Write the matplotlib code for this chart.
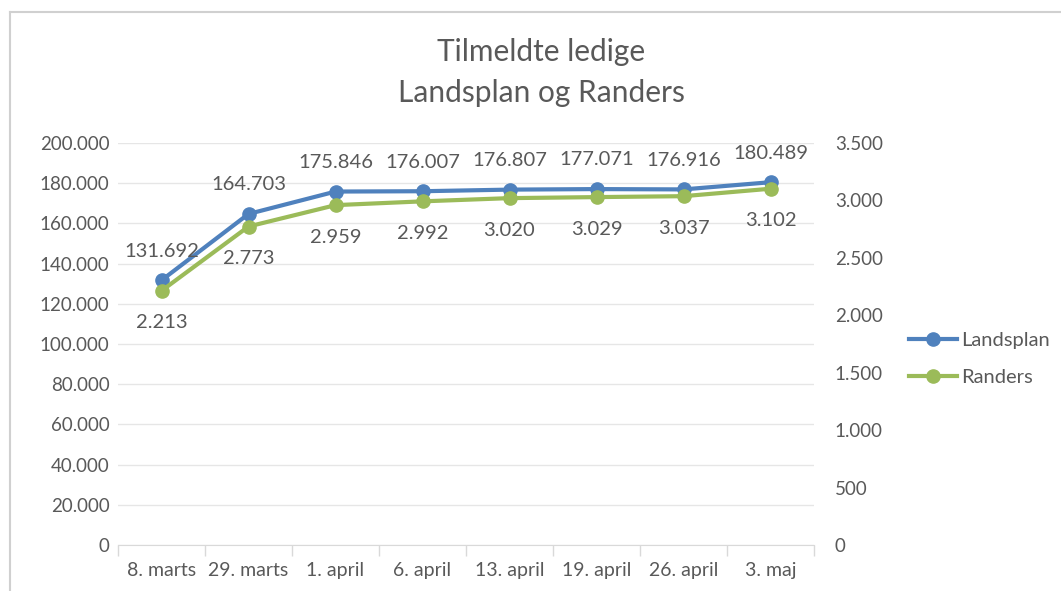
import matplotlib
matplotlib.use("Agg")
import matplotlib.pyplot as plt
from matplotlib.lines import Line2D
from matplotlib.ticker import FuncFormatter, MultipleLocator, FixedLocator

categories = ["8. marts", "29. marts", "1. april", "6. april", "13. april", "19. april", "26. april", "3. maj"]
landsplan = [131692, 164703, 175846, 176007, 176807, 177071, 176916, 180489]
randers = [2213, 2773, 2959, 2992, 3020, 3029, 3037, 3102]

plt.rcParams['font.family'] = ['Lato', 'DejaVu Sans']
txt = "#595959"
blue = "#4F81BD"
green = "#9BBB59"

def dk(v, pos=None):
    return f"{int(round(v)):,}".replace(",", ".")

fig = plt.figure(figsize=(10.61, 5.91), dpi=100)
ax = fig.add_axes([118/1061, 46/591, 696/1061, 402/591])
ax2 = ax.twinx()

x = list(range(len(categories)))
ax.plot(x, landsplan, color=blue, lw=3, marker="o", ms=9.5, zorder=3, label="Landsplan")
ax2.plot(x, randers, color=green, lw=3, marker="o", ms=9.5, zorder=3, label="Randers")

for xi, v in zip(x, landsplan):
    ax.annotate(dk(v), (xi, v), xytext=(0, 21), textcoords="offset points",
                ha="center", va="center", fontsize=14.5, color=txt)
for xi, v in zip(x, randers):
    ax2.annotate(dk(v), (xi, v), xytext=(0, -23), textcoords="offset points",
                 ha="center", va="center", fontsize=14.5, color=txt)

ax.set_xlim(-0.5, len(categories) - 0.5)
ax.set_ylim(0, 200000)
ax2.set_ylim(0, 3500)
ax.yaxis.set_major_locator(MultipleLocator(20000))
ax2.yaxis.set_major_locator(MultipleLocator(500))
ax.yaxis.set_major_formatter(FuncFormatter(dk))
ax2.yaxis.set_major_formatter(FuncFormatter(dk))

ax.set_xticks(x)
ax.set_xticklabels(categories)
ax.xaxis.set_minor_locator(FixedLocator([i - 0.5 for i in range(len(categories) + 1)]))
ax.tick_params(axis="x", which="major", length=0, labelsize=14, colors=txt, pad=12)
ax.tick_params(axis="x", which="minor", length=8, color="#D9D9D9", width=1)
ax.tick_params(axis="y", length=0, labelsize=13.5, colors=txt, pad=6)
ax2.tick_params(axis="y", length=0, labelsize=13.5, colors=txt, pad=15)

ax.grid(axis="y", color="#E6E6E6", lw=1)
ax.set_axisbelow(True)
for a in (ax, ax2):
    for s in ("top", "right", "left"):
        a.spines[s].set_visible(False)
    a.spines["bottom"].set_color("#D9D9D9")
ax2.spines["bottom"].set_visible(False)
ax2.set_zorder(ax.get_zorder() + 1)
ax2.patch.set_visible(False)

fig.text(541/1061, 1 - 52/591, "Tilmeldte ledige", ha="center", va="center", fontsize=21.5, color=txt)
fig.text(541/1061, 1 - 93/591, "Landsplan og Randers", ha="center", va="center", fontsize=21.5, color=txt)

handles = [Line2D([], [], color=blue, lw=3, marker="o", ms=9.5),
           Line2D([], [], color=green, lw=3, marker="o", ms=9.5)]
fig.legend(handles, ["Landsplan", "Randers"], loc="center left", bbox_to_anchor=(891/1061, 1 - 359/591),
           frameon=False, fontsize=14.5, labelcolor=txt, handlelength=2.4, handletextpad=0.2,
           labelspacing=1.0)

fig.add_artist(Line2D([10/1061, 10/1061], [0, 1 - 12/591], color="#D0D0D0", lw=1.5))
fig.add_artist(Line2D([10/1061, 1], [1 - 12/591, 1 - 12/591], color="#D0D0D0", lw=1.5))

fig.savefig("out.png", dpi=100)
